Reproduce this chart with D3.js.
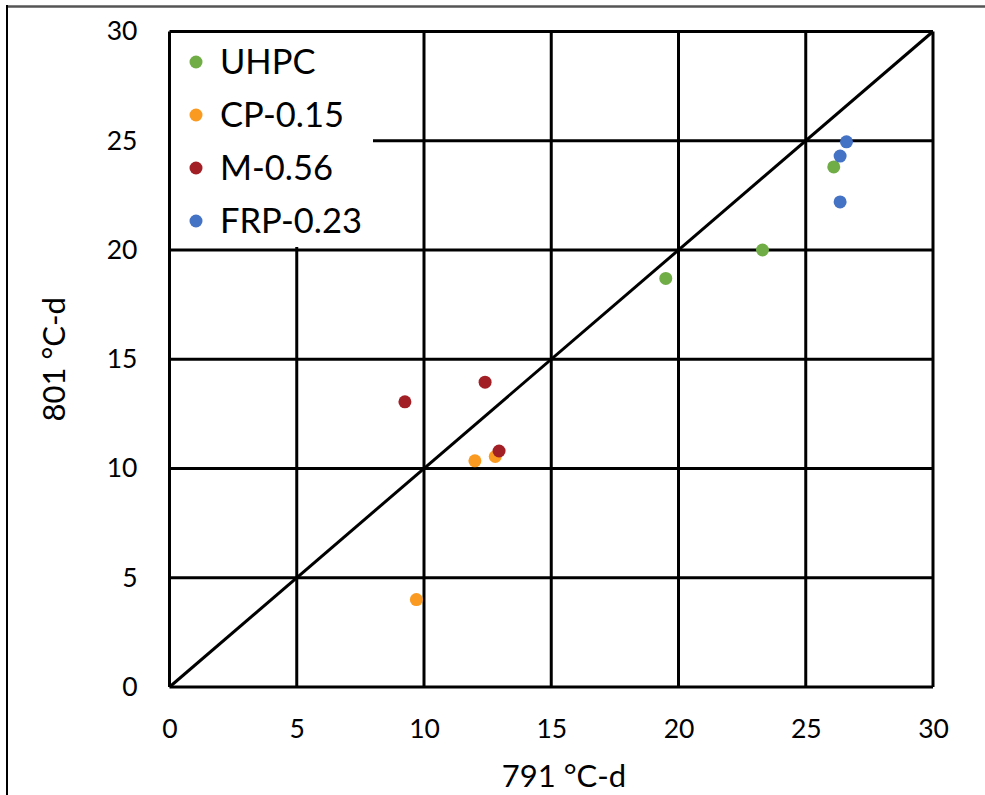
<!DOCTYPE html>
<html>
<head>
<meta charset="utf-8">
<script src="https://cdn.jsdelivr.net/npm/d3@7/dist/d3.min.js"></script>
<style>
  body { margin: 0; background: #fff; }
  svg { display: block; font-family: Lato, "Open Sans", sans-serif; }
</style>
</head>
<body>
<svg id="chart" width="985" height="795"></svg>
<script>
// series data: [791 °C-d, 801 °C-d]
const uhpc = [[26.1, 23.8], [23.3, 20.0], [19.5, 18.7]];
const cp015 = [[9.7, 4.0], [12.0, 10.35], [12.8, 10.55]];
const m056 = [[9.25, 13.05], [12.4, 13.95], [12.95, 10.8]];
const frp023 = [[26.6, 24.95], [26.35, 24.3], [26.35, 22.2]];

const seriesNames = ["UHPC", "CP-0.15", "M-0.56", "FRP-0.23"];
const seriesColors = ["#70AD47", "#FB9A20", "#A31F26", "#4472C4"];
const ticks = [0, 5, 10, 15, 20, 25, 30];

const series = [uhpc, cp015, m056, frp023].map((pts, i) => ({
  name: seriesNames[i], color: seriesColors[i], pts
}));

const margin = { top: 31.5, right: 52, bottom: 108, left: 169.5 };
const width = 985, height = 795;

const svg = d3.select("#chart");

// outer frame (top + left only, rest cropped)
svg.append("line").attr("x1", 7).attr("x2", width).attr("y1", 6.5).attr("y2", 6.5)
  .attr("stroke", "#555").attr("stroke-width", 2.5);
svg.append("line").attr("x1", 7).attr("x2", 7).attr("y1", 5).attr("y2", height)
  .attr("stroke", "#000").attr("stroke-width", 2);

const x = d3.scaleLinear().domain([0, 30]).range([margin.left, width - margin.right]);
const y = d3.scaleLinear().domain([0, 30]).range([height - margin.bottom, margin.top]);

// grid
const grid = svg.append("g").attr("stroke", "#000").attr("stroke-width", 3);
grid.selectAll(".v").data(ticks).join("line")
  .attr("x1", d => x(d)).attr("x2", d => x(d))
  .attr("y1", y(0)).attr("y2", y(30));
grid.selectAll(".h").data(ticks).join("line")
  .attr("x1", x(0)).attr("x2", x(30))
  .attr("y1", d => y(d)).attr("y2", d => y(d));

// 1:1 line
svg.append("line")
  .attr("x1", x(0)).attr("y1", y(0)).attr("x2", x(30)).attr("y2", y(30))
  .attr("stroke", "#000").attr("stroke-width", 3);

// axes labels
svg.append("g")
  .attr("transform", `translate(0,${y(0)})`)
  .call(d3.axisBottom(x).tickValues(ticks).tickSize(0).tickPadding(32))
  .call(g => g.select(".domain").remove())
  .call(g => g.selectAll("text").attr("font-size", 26.5).attr("fill", "#000")
    .attr("font-family", "Lato, sans-serif"));

svg.append("g")
  .attr("transform", `translate(${x(0)},0)`)
  .call(d3.axisLeft(y).tickValues(ticks).tickSize(0).tickPadding(32))
  .call(g => g.select(".domain").remove())
  .call(g => g.selectAll("text").attr("font-size", 26.5).attr("fill", "#000")
    .attr("font-family", "Lato, sans-serif"));

svg.append("text")
  .attr("x", 564).attr("y", 787)
  .attr("text-anchor", "middle").attr("font-size", 31)
  .text("791 °C-d");

svg.append("text")
  .attr("transform", `translate(65,${(y(0) + y(30)) / 2}) rotate(-90)`)
  .attr("text-anchor", "middle").attr("font-size", 31)
  .text("801 °C-d");

// points
svg.append("g").selectAll("g").data(series).join("g")
  .attr("fill", d => d.color)
  .selectAll("circle").data(d => d.pts).join("circle")
  .attr("cx", d => x(d[0])).attr("cy", d => y(d[1])).attr("r", 6.5);

// legend
const legend = svg.append("g");
legend.append("rect")
  .attr("x", x(0) + 1.5).attr("y", y(30) + 1.5)
  .attr("width", 202).attr("height", 214)
  .attr("fill", "#fff");
const item = legend.selectAll("g").data(series).join("g")
  .attr("transform", (d, i) => `translate(196,${62 + i * 53})`);
item.append("circle").attr("r", 6.5).attr("fill", d => d.color);
item.append("text")
  .attr("x", 24).attr("dy", "0.36em")
  .attr("font-size", 34.5)
  .text(d => d.name);
</script>
</body>
</html>
